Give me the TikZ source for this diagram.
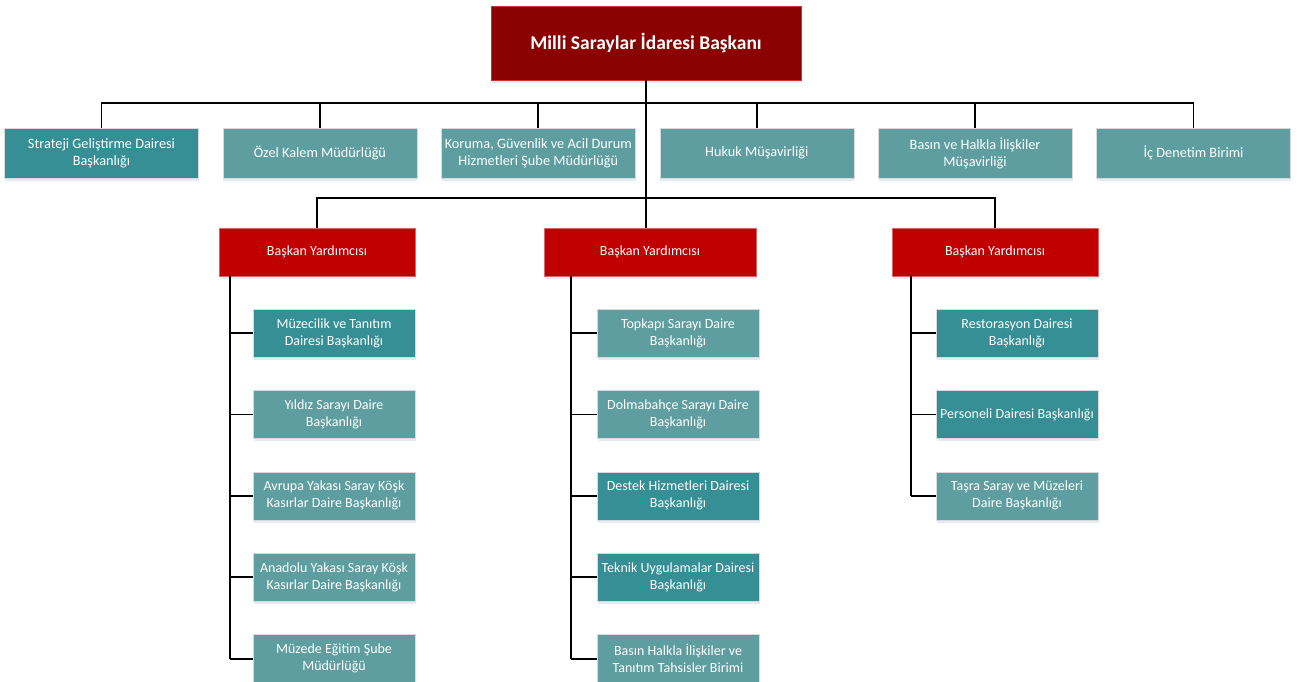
\documentclass[tikz,border=0pt]{standalone}
\usepackage{fontspec}
\setmainfont{Carlito}
\usetikzlibrary{positioning,shadows}
\definecolor{c1}{RGB}{139, 0, 0}
\definecolor{c2}{RGB}{192, 0, 0}
\definecolor{c3}{RGB}{54, 143, 149}
\definecolor{c4}{RGB}{95, 158, 160}
\definecolor{cshade}{RGB}{222, 230, 242}
\tikzset{
	auto,
	box/.style={
		rectangle, align=center, text=white, thin, inner xsep=1pt,
		drop shadow={shadow xshift=0.5pt, shadow yshift=-3pt, fill=cshade, opacity=0.8}
	},
	%
	chief/.style={
		box, minimum width=310pt, minimum height=74pt,
		draw=c2!80!white, fill=c1, font=\fontsize{19.5}{22}\selectfont\bfseries
	},
	%
	deputy/.style={
		box, minimum height=48pt, draw=c2!60!white, fill=c2,
		font=\fontsize{14}{17}\selectfont
	},
	%
	office/.style={
		box, minimum width=194pt, minimum height=50pt, draw=black!15,
		fill=c4, font=\fontsize{14.3}{17}\selectfont
	},
	%
	unit/.style={
		box, minimum width=162pt, minimum height=48pt, draw=black!15,
		fill=c4, font=\fontsize{14}{17}\selectfont
	},
	%
	dark/.style={fill=c3},
	link/.style={line width=1.8pt, black}
}

\begin{document}
\begin{tikzpicture}[x=1pt, y=-1pt]
    \useasboundingbox (0,0) rectangle (1300,682);
    \node(pres)[chief] at (646,43) {Milli Saraylar İdaresi Başkanı};
    % first row
    \node(sgdb)[office, dark] at (101.5,153) {Strateji Geliştirme Dairesi\\Başkanlığı};
    \node(ozk)[office, right=24pt of sgdb] {Özel Kalem Müdürlüğü};
    \node(kgad)[office, right=24pt of ozk] {Koruma, Güvenlik ve Acil Durum\\Hizmetleri Şube Müdürlüğü};
    \node(hm)[office, right=24pt of kgad] {Hukuk Müşavirliği};
    \node(bhim)[office, right=24pt of hm] {Basın ve Halkla İlişkiler\\Müşavirliği};
    \node(icdb)[office, right=24pt of bhim] {İç Denetim Birimi};
    % deputies
    \node(by1)[deputy, minimum width=196pt] at (317,252) {Başkan Yardımcısı};
    \node(by2)[deputy, minimum width=212pt] at (650,252) {Başkan Yardımcısı};
    \node(by3)[deputy, minimum width=206pt] at (995,252) {Başkan Yardımcısı};
    % units
    \node(mtdb)[unit, dark] at (334,333) {Müzecilik ve Tanıtım\\Dairesi Başkanlığı};
    \node(ysdb)[unit, below=33pt of mtdb] {Yıldız Sarayı Daire\\Başkanlığı};
    \node(avdb)[unit, below=33pt of ysdb] {Avrupa Yakası Saray Köşk\\Kasırlar Daire Başkanlığı};
    \node(andb)[unit, below=33pt of avdb] {Anadolu Yakası Saray Köşk\\Kasırlar Daire Başkanlığı};
    \node(megs)[unit, below=33pt of andb] {Müzede Eğitim Şube\\Müdürlüğü};
    \node(tsdb)[unit] at (678,333) {Topkapı Sarayı Daire\\Başkanlığı};
    \node(dsdb)[unit, below=33pt of tsdb] {Dolmabahçe Sarayı Daire\\Başkanlığı};
    \node(dhdb)[unit, dark, below=33pt of dsdb] {Destek Hizmetleri Dairesi\\Başkanlığı};
    \node(tudb)[unit, dark, below=33pt of dhdb] {Teknik Uygulamalar Dairesi\\Başkanlığı};
    \node(bhtb)[unit, below=33pt of tudb] {Basın Halkla İlişkiler ve\\Tanıtım Tahsisler Birimi};
    \node(rdb)[unit, dark] at (1017,333) {Restorasyon Dairesi\\Başkanlığı};
    \node(pdb)[unit, dark, below=33pt of rdb] {Personeli Dairesi Başkanlığı};
    \node(tmdb)[unit, below=33pt of pdb] {Taşra Saray ve Müzeleri\\Daire Başkanlığı};
    % connectors
    \coordinate(bus1) at (646,103);
    \coordinate(bus2) at (646,198);
    \draw[link] (pres.south) -- (pres.south |- by2.north);
    \draw[link] (sgdb.north) |- (bus1) -| (icdb.north);
    \foreach \n in {ozk,kgad,hm,bhim}
        \draw[link] (\n.north) -- (\n.north |- bus1);
    \draw[link] (by1.north) |- (bus2) -| (by3.north);
    \coordinate(sp1) at ([xshift=11pt]by1.south west);
    \coordinate(sp2) at ([xshift=27pt]by2.south west);
    \coordinate(sp3) at ([xshift=19pt]by3.south west);
    \draw[link] (sp1) -- (sp1 |- megs.west);
    \draw[link] (sp2) -- (sp2 |- bhtb.west);
    \draw[link] (sp3) -- (sp3 |- tmdb.west);
    \foreach \n in {mtdb,ysdb,avdb,andb,megs}
        \draw[link] (\n.west) -- (\n.west -| sp1);
    \foreach \n in {tsdb,dsdb,dhdb,tudb,bhtb}
        \draw[link] (\n.west) -- (\n.west -| sp2);
    \foreach \n in {rdb,pdb,tmdb}
        \draw[link] (\n.west) -- (\n.west -| sp3);
\end{tikzpicture}
\end{document}
